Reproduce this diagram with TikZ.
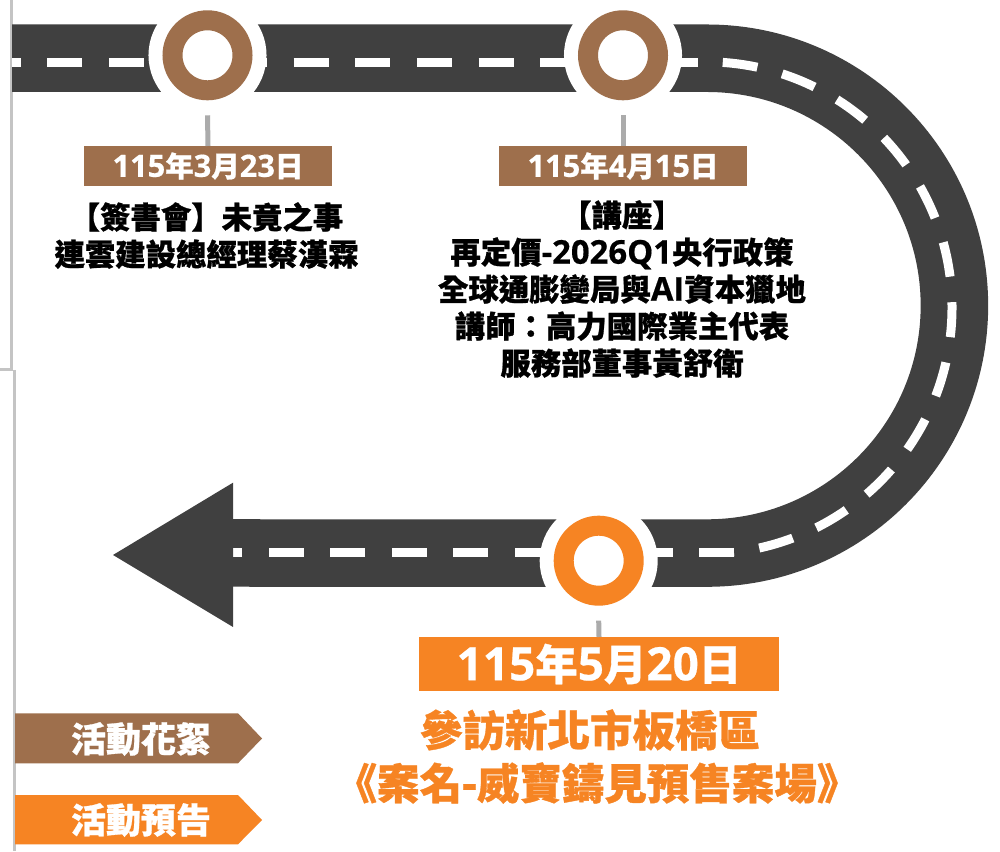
\documentclass[tikz,border=0pt]{standalone}
\usepackage{fontspec}
\setmainfont{Noto Sans CJK TC}[BoldFeatures={FakeBold=0.8}]
\newfontfamily\latn{Open Sans}[Scale=1.08,BoldFeatures={FakeBold=0.5}]
\newcommand{\lt}[1]{{\latn #1}}
\definecolor{roadgray}{HTML}{404040}
\definecolor{tanbrown}{HTML}{9E6F4C}
\definecolor{signorange}{HTML}{F68423}
\definecolor{stemgray}{HTML}{ABABAB}
\definecolor{edgegray}{HTML}{C4C4C4}
\tikzset{
	hub/.style={circle,draw=#1,fill=white,line width=20pt,minimum size=70pt,inner sep=0pt,outer sep=0pt,preaction={draw=white,line width=48pt}},
	datebox/.style={fill=#1,text=white,font=\bfseries\fontsize{28.5}{30}\selectfont,inner sep=0pt,outer sep=0pt,minimum width=248pt,minimum height=40pt},
	stem/.style={draw=stemgray,line width=5pt},
	lane/.style={draw=white,line width=9pt},
	talk/.style={align=center,font=\bfseries\fontsize{30.4}{37}\selectfont,inner sep=0pt},
	tag/.style={text=white,font=\bfseries\fontsize{35}{36}\selectfont,inner sep=0pt}
}
\begin{document}
\begin{tikzpicture}[x=1pt,y=1pt,line join=miter]
	\useasboundingbox (0,0) rectangle (1000,851);
	\fill[white] (0,0) rectangle (1000,851);
	\draw[edgegray,line width=3pt] (11.5,851)--(11.5,481) (0,481)--(13,481) (14.5,481)--(14.5,0);
	% road and lane marks
	\draw[roadgray,line width=67.5pt] (12,792.75)--(707,792.75) arc[start angle=90,end angle=-90,radius=247.4pt]--(233,298);
	\draw[lane,dash pattern=on 35pt off 26.6pt,dash phase=26.3pt] (12,788.3)--(698,788.3);
	\draw[lane,dash pattern=on 35pt off 25.68pt] (706,543.15) ++(86.1:246pt) arc[start angle=86.1,end angle=-83.5,radius=246pt];
	\draw[lane,dash pattern=on 35pt off 26.5pt] (734,298)--(233,298);
	\fill[roadgray] (113,296)--(233,368.3)--(233,224)--cycle;
	% stops
	\node[hub=tanbrown] (hubA) at (207.5,795.7) {};
	\node[hub=tanbrown] (hubB) at (623,795.7) {};
	\node[hub=signorange] (hubC) at (598.7,290.3) {};
	\node[datebox=tanbrown] (dateA) at (208,685) {\lt{115}年\lt{3}月\lt{23}日};
	\node[datebox=tanbrown] (dateB) at (623,685) {\lt{115}年\lt{4}月\lt{15}日};
	\node[datebox=signorange,minimum width=360pt,minimum height=54pt,font=\bfseries\fontsize{42.5}{45}\selectfont] (dateC) at (599,187) {\lt{115}年\lt{5}月\lt{20}日};
	\draw[stem] ([yshift=-25pt]hubA.south)--(dateA.north);
	\draw[stem] ([yshift=-25pt]hubB.south)--(dateB.north);
	\draw[stem] ([yshift=-25pt]hubC.south)--(dateC.north);
	\node[talk] (talkA) at (206.5,615.5) {【簽書會】未竟之事\\連雲建設總經理蔡漢霖};
	\node[talk] (talkB) at (622,562) {【講座】\\再定價\lt{-2026Q1}央行政策\\全球通膨變局與\lt{AI}資本獵地\\講師\char"FF1A 高力國際業主代表\\服務部董事黃舒衛};
	\node[talk,text=signorange,font=\bfseries\fontsize{42.5}{53}\selectfont] (talkC) at (597,94.5) {\hspace*{-14pt}參訪新北市板橋區\\《案名\lt{-}威寶鑄見預售案場》};
	% legend
	\fill[tanbrown] (15,137.7)--(238,137.7)--(262,112.5)--(238,87.7)--(15,87.7)--cycle;
	\fill[signorange] (15,56)--(238,56)--(262,31)--(238,6.7)--(15,6.7)--cycle;
	\node[tag] (tagA) at (141,112) {活動花絮};
	\node[tag] (tagB) at (141,31) {活動預告};
\end{tikzpicture}
\end{document}
